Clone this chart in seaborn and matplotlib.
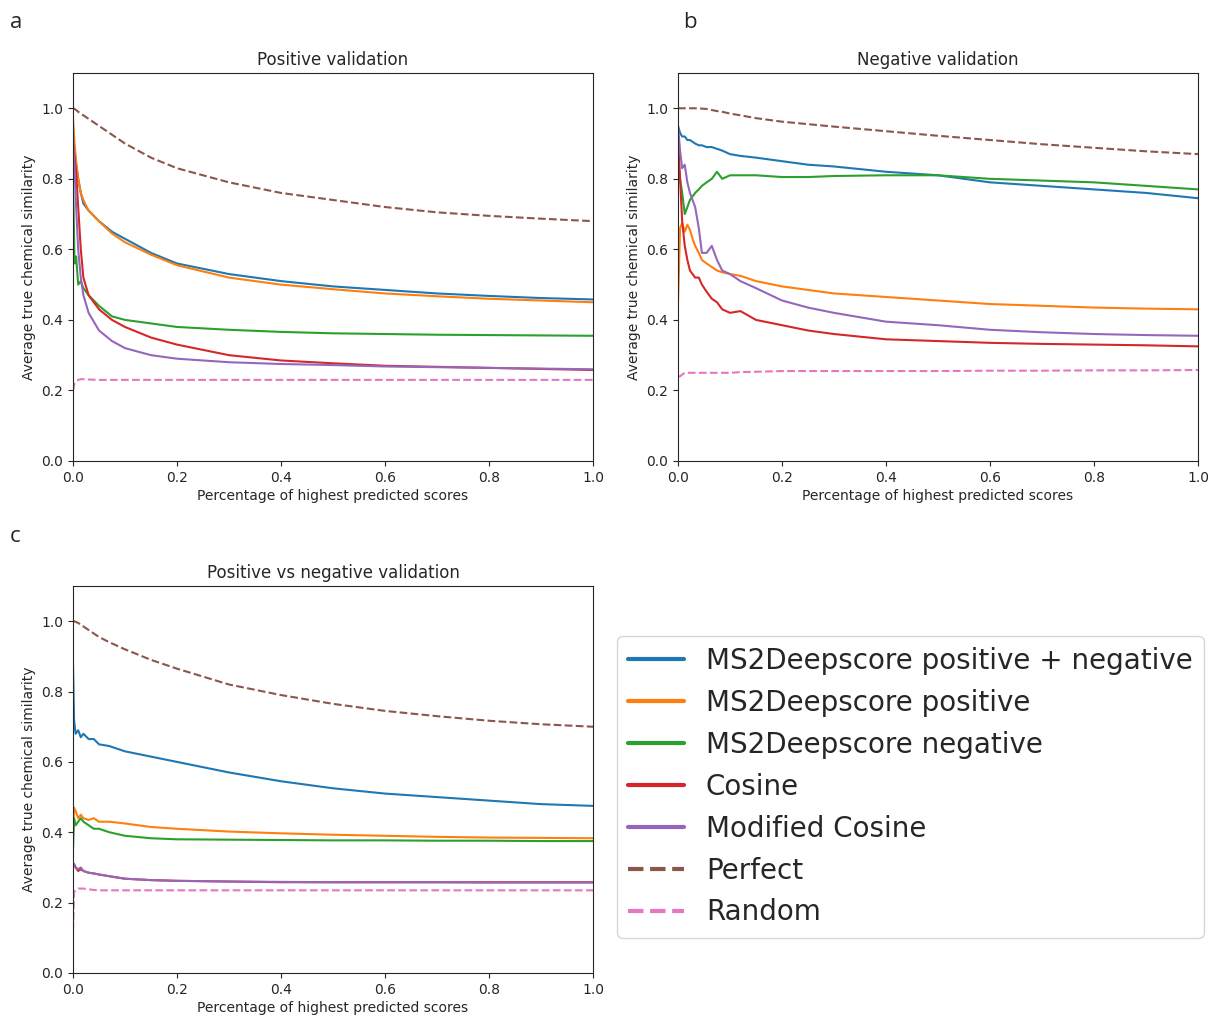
import matplotlib
matplotlib.use("Agg")
import matplotlib.pyplot as plt
import seaborn as sns

# --- Data ---
METHODS = ["MS2Deepscore positive + negative", "MS2Deepscore positive",
           "MS2Deepscore negative", "Cosine", "Modified Cosine", "Perfect", "Random"]
COLORS = ["#1f77b4", "#ff7f0e", "#2ca02c", "#d62728", "#9467bd", "#8c564b", "#e377c2"]

# panel a: positive validation
a_x = [0.0, 0.003, 0.006, 0.01, 0.015, 0.02, 0.03, 0.05, 0.075, 0.1, 0.15, 0.2, 0.3,
       0.4, 0.5, 0.6, 0.7, 0.8, 0.9, 1.0]
a_pos_neg = [0.93, 0.88, 0.84, 0.80, 0.76, 0.73, 0.71, 0.68, 0.65, 0.63, 0.59, 0.56, 0.53,
             0.51, 0.495, 0.485, 0.475, 0.468, 0.462, 0.458]
a_pos = [0.97, 0.90, 0.85, 0.80, 0.76, 0.74, 0.71, 0.68, 0.645, 0.62, 0.585, 0.555, 0.52,
         0.50, 0.487, 0.475, 0.467, 0.46, 0.455, 0.45]
a_neg = [0.80, 0.56, 0.58, 0.50, 0.51, 0.49, 0.47, 0.44, 0.41, 0.40, 0.39, 0.38, 0.372,
         0.366, 0.362, 0.36, 0.358, 0.357, 0.356, 0.355]
a_cos = [0.90, 0.86, 0.82, 0.72, 0.60, 0.52, 0.47, 0.43, 0.40, 0.38, 0.35, 0.33, 0.30,
         0.285, 0.277, 0.27, 0.267, 0.264, 0.261, 0.258]
a_mod = [0.92, 0.83, 0.72, 0.60, 0.52, 0.47, 0.42, 0.37, 0.34, 0.32, 0.30, 0.29, 0.28,
         0.275, 0.272, 0.268, 0.266, 0.264, 0.262, 0.26]
a_perfect = [1.0, 0.998, 0.995, 0.99, 0.985, 0.98, 0.97, 0.95, 0.925, 0.90, 0.86, 0.83, 0.79,
             0.76, 0.74, 0.72, 0.705, 0.695, 0.687, 0.68]
a_random = [0.20, 0.22, 0.225, 0.23, 0.232, 0.232, 0.231, 0.23, 0.23, 0.23, 0.23, 0.23, 0.23,
            0.23, 0.23, 0.23, 0.23, 0.23, 0.23, 0.23]

# panel b: negative validation
b_x = [0.0, 0.004, 0.008, 0.013, 0.018, 0.023, 0.028, 0.033, 0.04, 0.046, 0.055, 0.065,
       0.075, 0.085, 0.1, 0.12, 0.15, 0.2, 0.25, 0.3, 0.4, 0.5, 0.6, 0.7, 0.8, 0.9, 1.0]
b_pos_neg = [0.95, 0.93, 0.92, 0.92, 0.91, 0.91, 0.905, 0.90, 0.895, 0.895, 0.89, 0.89, 0.885,
             0.88, 0.87, 0.865, 0.86, 0.85, 0.84, 0.835, 0.82, 0.81, 0.79, 0.78, 0.77, 0.76, 0.745]
b_pos = [0.45, 0.66, 0.675, 0.65, 0.67, 0.655, 0.63, 0.61, 0.59, 0.57, 0.56, 0.55, 0.54,
         0.535, 0.53, 0.525, 0.51, 0.495, 0.485, 0.475, 0.465, 0.455, 0.445, 0.44, 0.435, 0.432, 0.43]
b_neg = [0.85, 0.80, 0.76, 0.70, 0.72, 0.74, 0.75, 0.76, 0.77, 0.78, 0.79, 0.80, 0.82,
         0.80, 0.81, 0.81, 0.81, 0.805, 0.805, 0.808, 0.81, 0.81, 0.80, 0.795, 0.79, 0.78, 0.77]
b_cos = [0.92, 0.80, 0.68, 0.61, 0.57, 0.54, 0.53, 0.52, 0.52, 0.50, 0.48, 0.46, 0.45,
         0.43, 0.42, 0.425, 0.40, 0.385, 0.37, 0.36, 0.345, 0.34, 0.335, 0.332, 0.33, 0.328, 0.325]
b_mod = [0.95, 0.88, 0.83, 0.84, 0.79, 0.76, 0.74, 0.72, 0.66, 0.59, 0.59, 0.61, 0.57,
         0.54, 0.53, 0.51, 0.49, 0.455, 0.435, 0.42, 0.395, 0.385, 0.372, 0.365, 0.36, 0.357, 0.355]
b_perfect = [1.0, 1.0, 1.0, 1.0, 1.0, 1.0, 1.0, 1.0, 1.0, 0.999, 0.998, 0.995, 0.992,
             0.99, 0.985, 0.98, 0.972, 0.962, 0.955, 0.948, 0.935, 0.922, 0.91, 0.898, 0.888, 0.878, 0.87]
b_random = [0.24, 0.24, 0.245, 0.25, 0.25, 0.25, 0.25, 0.25, 0.25, 0.25, 0.25, 0.25, 0.25,
            0.25, 0.25, 0.252, 0.253, 0.255, 0.255, 0.255, 0.255, 0.255, 0.256, 0.256, 0.257, 0.257, 0.258]

# panel c: positive vs negative validation
c_x = [0.0, 0.002, 0.005, 0.01, 0.015, 0.02, 0.03, 0.04, 0.05, 0.07, 0.1, 0.15, 0.2, 0.3,
       0.4, 0.5, 0.6, 0.7, 0.8, 0.9, 1.0]
c_pos_neg = [0.88, 0.72, 0.68, 0.69, 0.67, 0.68, 0.665, 0.665, 0.65, 0.645, 0.63, 0.615, 0.60,
             0.57, 0.545, 0.525, 0.51, 0.50, 0.49, 0.48, 0.475]
c_pos = [0.40, 0.47, 0.46, 0.44, 0.45, 0.44, 0.435, 0.44, 0.43, 0.43, 0.425, 0.415, 0.41,
         0.402, 0.397, 0.393, 0.39, 0.387, 0.385, 0.384, 0.383]
c_neg = [0.35, 0.44, 0.42, 0.43, 0.44, 0.43, 0.42, 0.41, 0.41, 0.40, 0.39, 0.383, 0.38,
         0.379, 0.378, 0.377, 0.377, 0.376, 0.376, 0.375, 0.375]
c_cos = [0.30, 0.31, 0.30, 0.29, 0.295, 0.29, 0.285, 0.283, 0.28, 0.275, 0.268, 0.264, 0.262,
         0.26, 0.258, 0.258, 0.258, 0.258, 0.258, 0.258, 0.258]
c_mod = [0.31, 0.31, 0.30, 0.295, 0.30, 0.29, 0.285, 0.283, 0.28, 0.275, 0.268, 0.264, 0.262,
         0.26, 0.259, 0.258, 0.258, 0.258, 0.257, 0.257, 0.257]
c_perfect = [1.0, 1.0, 0.998, 0.995, 0.99, 0.985, 0.975, 0.965, 0.955, 0.94, 0.92, 0.89, 0.865,
             0.82, 0.79, 0.765, 0.745, 0.73, 0.717, 0.707, 0.70]
c_random = [0.12, 0.23, 0.235, 0.24, 0.24, 0.24, 0.238, 0.236, 0.235, 0.235, 0.235, 0.235, 0.235,
            0.235, 0.235, 0.235, 0.235, 0.235, 0.235, 0.235, 0.235]

PANELS = [
    ("a", "Positive validation", a_x,
     [a_pos_neg, a_pos, a_neg, a_cos, a_mod, a_perfect, a_random]),
    ("b", "Negative validation", b_x,
     [b_pos_neg, b_pos, b_neg, b_cos, b_mod, b_perfect, b_random]),
    ("c", "Positive vs negative validation", c_x,
     [c_pos_neg, c_pos, c_neg, c_cos, c_mod, c_perfect, c_random]),
]

sns.set_style("ticks")
plt.rcParams.update({"font.family": ["DejaVu Sans"], "axes.linewidth": 0.8})

W, H = 1209, 1019
fig = plt.figure(figsize=(W / 100, H / 100), dpi=100)

# axes boxes in pixels: left, top, right, bottom
BOXES = [(73, 73, 593, 461), (678, 73, 1198, 461), (73, 586, 593, 973)]
LABEL_POS = [(10, 22), (683, 22), (10, 537)]


def add_axes(box):
    l, t, r, b = box
    return fig.add_axes([l / W, 1 - b / H, (r - l) / W, (b - t) / H])


handles = None
for (letter, title, xs, series), box, lp in zip(PANELS, BOXES, LABEL_POS):
    ax = add_axes(box)
    for name, ys, col in zip(METHODS, series, COLORS):
        ls = "--" if name in ("Perfect", "Random") else "-"
        sns.lineplot(x=xs, y=ys, color=col, linestyle=ls, linewidth=1.5, ax=ax, label=name)
    ax.set_xlim(0, 1.0)
    ax.set_ylim(0, 1.1)
    ax.set_xticks([0, 0.2, 0.4, 0.6, 0.8, 1.0])
    ax.set_yticks([0, 0.2, 0.4, 0.6, 0.8, 1.0])
    ax.tick_params(labelsize=10, length=3.5, width=0.8, direction="out")
    ax.set_title(title, fontsize=12)
    ax.set_xlabel("Percentage of highest predicted scores", fontsize=10, labelpad=3)
    ax.set_ylabel("Average true chemical similarity", fontsize=10)
    handles = ax.get_legend_handles_labels()
    ax.get_legend().remove()
    fig.text(lp[0] / W, 1 - lp[1] / H, letter, fontsize=16, family=["Open Sans", "DejaVu Sans"],
             ha="left", va="center")

leg = fig.legend(handles[0], handles[1], loc="upper left",
                 bbox_to_anchor=(617 / W, 1 - 636 / H), fontsize=20,
                 frameon=True, fancybox=True, framealpha=0.8, edgecolor="#cccccc",
                 handlelength=2.0, borderaxespad=0)
for line in leg.get_lines():
    line.set_linewidth(3)

fig.savefig("out.png", dpi=100)
